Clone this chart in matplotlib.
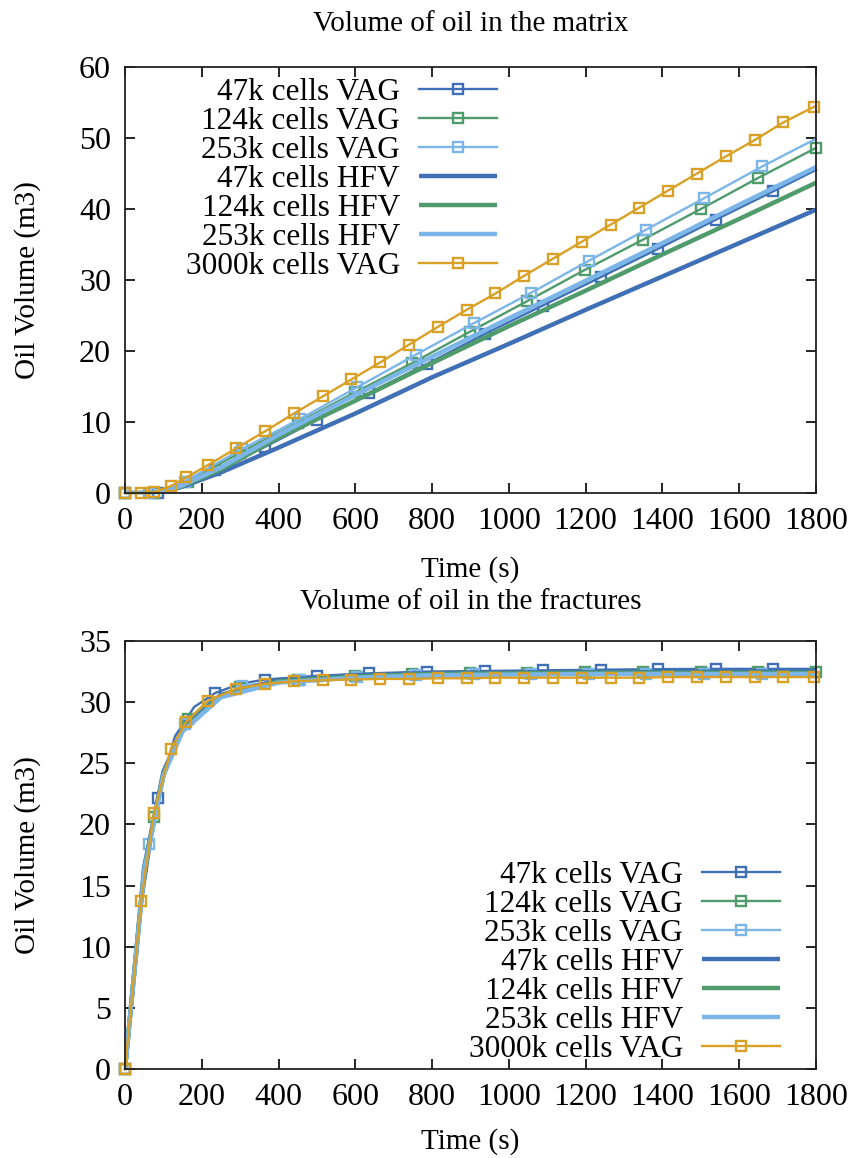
import matplotlib
matplotlib.use("Agg")
import matplotlib.pyplot as plt

plt.rcParams['font.family'] = ['Liberation Serif', 'DejaVu Serif']

# ---------------- data ----------------
labels = ["47k cells VAG", "124k cells VAG", "253k cells VAG",
          "47k cells HFV", "124k cells HFV", "253k cells HFV", "3000k cells VAG"]

t_47v = [0, 40, 85, 130, 180, 235, 300, 365, 500, 636, 787, 937, 1088, 1239, 1389, 1539, 1689, 1800]
t_124v = [0, 40, 75, 120, 163, 230, 300, 450, 600, 748, 898, 1047, 1197, 1350, 1500, 1650, 1800]
t_253v = [0, 35, 63, 110, 155, 230, 305, 455, 605, 758, 908, 1058, 1208, 1358, 1508, 1660, 1800]
t_hfv = [0, 50, 100, 150, 250, 400, 600, 800, 1000, 1200, 1400, 1600, 1800]
t_3000 = [0, 42, 75, 120, 160, 215, 290, 365, 440, 515, 590, 665, 740, 815, 890,
          965, 1040, 1115, 1190, 1265, 1340, 1415, 1490, 1565, 1640, 1715, 1795]

# indices of the output steps that carry a marker
mk_47v = [0, 2, 5, 7, 8, 9, 10, 11, 12, 13, 14, 15, 16]
mk_124v = [0, 2, 4, 6, 7, 8, 9, 10, 11, 12, 13, 14, 15, 16]
mk_253v = [0, 2, 4, 6, 7, 8, 9, 10, 11, 12, 13, 14, 15]

# matrix oil volume
m_47v = [0, 0, 0, 0.8, 1.9, 3.2, 4.9, 6.5, 10.3, 14.1, 18.2, 22.4, 26.4, 30.4, 34.4, 38.5, 42.5, 45.5]
m_124v = [0, 0, 0, 0.7, 1.6, 3.6, 5.7, 9.9, 14.2, 18.3, 22.7, 27.0, 31.4, 35.7, 40.0, 44.4, 48.6]
m_253v = [0, 0, 0, 0.5, 1.6, 3.9, 6.2, 10.4, 14.9, 19.5, 23.9, 28.2, 32.7, 37.1, 41.5, 46.0, 49.9]
m_47h = [0, 0, 0.1, 0.9, 2.9, 6.4, 11.2, 16.3, 21.0, 25.8, 30.5, 35.2, 39.9]
m_124h = [0, 0, 0.1, 1.0, 3.3, 7.8, 13.0, 18.3, 23.5, 28.5, 33.6, 38.6, 43.7]
m_253h = [0, 0, 0.1, 1.1, 3.6, 8.2, 13.8, 19.2, 24.6, 29.9, 35.2, 40.6, 45.9]
m_3000 = [0, 0, 0.1, 1.0, 2.2, 3.9, 6.3, 8.7, 11.2, 13.6, 16.0, 18.4, 20.9, 23.4, 25.8,
          28.1, 30.6, 33.0, 35.4, 37.8, 40.2, 42.6, 45.0, 47.4, 49.7, 52.2, 54.4]

# fracture oil volume
f_47v = [0, 12.8, 22.2, 27.2, 29.6, 30.75, 31.5, 31.85, 32.15, 32.35, 32.5, 32.55, 32.6, 32.65, 32.7, 32.72, 32.72, 32.72]
f_124v = [0, 13.2, 20.6, 26.0, 28.6, 30.3, 31.2, 31.8, 32.1, 32.3, 32.4, 32.4, 32.45, 32.45, 32.45, 32.45, 32.45]
f_253v = [0, 11.6, 18.4, 25.0, 28.2, 30.2, 31.35, 31.8, 32.05, 32.2, 32.3, 32.3, 32.3, 32.3, 32.3, 32.3, 32.3]
f_47h = [0, 16.5, 24.3, 27.8, 30.6, 31.8, 32.2, 32.35, 32.4, 32.45, 32.45, 32.5, 32.5]
f_124h = [0, 16.3, 24.1, 27.7, 30.5, 31.7, 32.1, 32.3, 32.35, 32.4, 32.4, 32.4, 32.4]
f_253h = [0, 16.2, 24.0, 27.6, 30.4, 31.6, 32.0, 32.2, 32.25, 32.3, 32.3, 32.3, 32.3]
f_3000 = [0, 13.7, 20.9, 26.2, 28.4, 30.1, 31.1, 31.5, 31.7, 31.8, 31.85, 31.9, 31.9, 31.95, 31.95,
          32.0, 32.0, 32.0, 32.0, 32.0, 32.0, 32.05, 32.05, 32.05, 32.05, 32.05, 32.05]

titles = ["Volume of oil in the matrix", "Volume of oil in the fractures"]
xticks = list(range(0, 1801, 200))
yticks_top = list(range(0, 61, 10))
yticks_bot = list(range(0, 36, 5))

# ---------------- style ----------------
C_BLUE = '#3f6fb5'
C_GREEN = '#4f9b6b'
C_LBLUE = '#7cb5e8'
C_ORANGE = '#d9a026'

FS = 21
LFS = 22.5
W, H = 851, 1158
fig = plt.figure(figsize=(W / 100, H / 100), dpi=100)

def frac(x0, y0, x1, y1):
    return [x0 / W, 1 - y1 / H, (x1 - x0) / W, (y1 - y0) / H]

ax1 = fig.add_axes(frac(125, 67, 816, 493))
ax2 = fig.add_axes(frac(125, 641, 816, 1069))

def draw(ax, ys, yticks, ylim, title, title_pad, legend_anchor, legend_loc):
    m47v, m124v, m253v, m47h, m124h, m253h, m3000 = ys
    vag_kw = dict(lw=1.7, marker='s', ms=7.5, mfc='none', mew=1.7, clip_on=False)
    hfv_kw = dict(lw=3.2, solid_capstyle='butt')
    ax.plot(t_47v, m47v, color=C_BLUE, label=labels[0], markevery=mk_47v, **vag_kw)
    ax.plot(t_124v, m124v, color=C_GREEN, label=labels[1], markevery=mk_124v, **vag_kw)
    ax.plot(t_253v, m253v, color=C_LBLUE, label=labels[2], markevery=mk_253v, **vag_kw)
    ax.plot(t_hfv, m47h, color=C_BLUE, label=labels[3], **hfv_kw)
    ax.plot(t_hfv, m124h, color=C_GREEN, label=labels[4], **hfv_kw)
    ax.plot(t_hfv, m253h, color=C_LBLUE, label=labels[5], **hfv_kw)
    ax.plot(t_3000, m3000, color=C_ORANGE, label=labels[6], **vag_kw)

    ax.set_xlim(0, 1800)
    ax.set_ylim(*ylim)
    ax.set_xticks(xticks)
    ax.set_yticks(yticks)
    ax.tick_params(direction='in', length=7, width=1.2, top=True, right=True,
                   labelsize=23, pad=10)
    for s in ax.spines.values():
        s.set_linewidth(1.3)
        s.set_color('#222222')
    ax.set_title(title, fontsize=FS, pad=title_pad)
    ax.set_xlabel("Time (s)", fontsize=FS)
    ax.set_ylabel("Oil Volume (m3)", fontsize=FS)
    ax.yaxis.set_label_coords(-0.122, 0.5)
    leg = ax.legend(loc=legend_loc, bbox_to_anchor=legend_anchor, frameon=False,
                    markerfirst=False, fontsize=LFS, handlelength=2.5,
                    handletextpad=0.6, labelspacing=0.0, borderpad=0,
                    borderaxespad=0)
    return leg

draw(ax1, [m_47v, m_124v, m_253v, m_47h, m_124h, m_253h, m_3000], yticks_top, (0, 60),
     titles[0], 26, (0.538, 0.975), 'upper right')
ax1.xaxis.set_label_coords(0.5, -0.148)
draw(ax2, [f_47v, f_124v, f_253v, f_47h, f_124h, f_253h, f_3000], yticks_bot, (0, 35),
     titles[1], 23, (0.948, 0.012), 'lower right')
ax2.xaxis.set_label_coords(0.5, -0.137)

fig.savefig("out.png", dpi=100)
